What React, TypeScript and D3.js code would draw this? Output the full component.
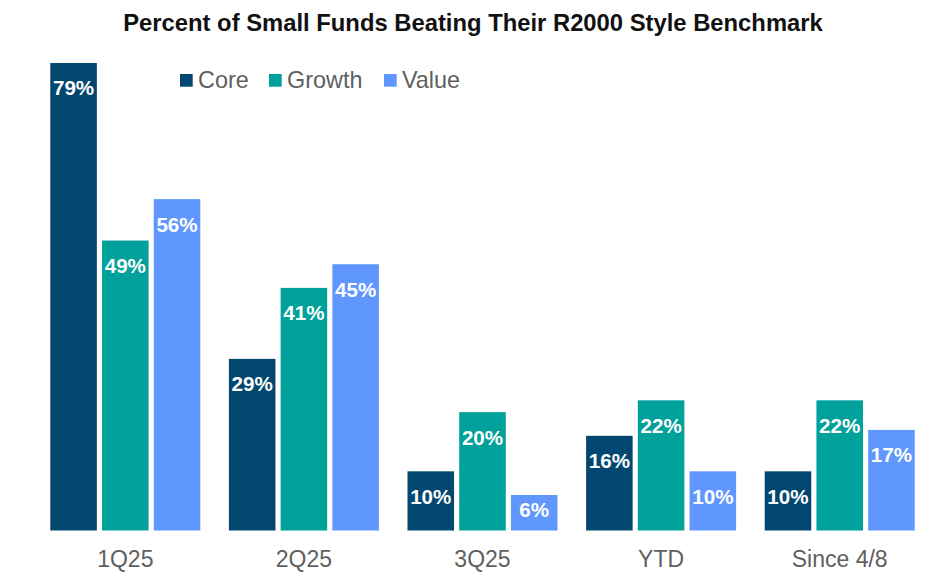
import React from "react";
import * as d3 from "d3";

const categories = ["1Q25", "2Q25", "3Q25", "YTD", "Since 4/8"];
const seriesNames = ["Core", "Growth", "Value"];
const coreValues = [79, 29, 10, 16, 10];
const growthValues = [49, 41, 20, 22, 22];
const valueValues = [56, 45, 6, 10, 17];
const seriesColors = ["#02476F", "#00A09B", "#6097FF"];
const titleText = "Percent of Small Funds Beating Their R2000 Style Benchmark";

const W = 930;
const H = 580;

export default function App() {
  const series = [coreValues, growthValues, valueValues];
  const x0 = d3
    .scaleBand<string>()
    .domain(categories)
    .range([36, 929])
    .paddingInner(0.16)
    .paddingOuter(0.08);
  const x1 = d3
    .scaleBand<string>()
    .domain(seriesNames)
    .range([0, x0.bandwidth()])
    .paddingInner(0.1)
    .paddingOuter(0);
  const y = d3.scaleLinear().domain([0, 80]).range([530.5, 57.1]);
  const base = y(0);
  const font = "'Liberation Sans', Arial, sans-serif";
  const gray = "#5f5f5f";

  const legendX = [180, 269, 384];

  return (
    <svg
      width={W}
      height={H}
      style={{ position: "absolute", left: 0, top: 0, background: "#fff" }}
      fontFamily={font}
    >
      <rect x={0} y={0} width={W} height={H} fill="#fff" />
      <text
        x={473}
        y={30.5}
        textAnchor="middle"
        fontWeight="bold"
        fontSize={23.8}
        fill="#111"
      >
        {titleText}
      </text>
      {categories.map((c, ci) => (
        <g key={c} transform={`translate(${x0(c)},0)`}>
          {seriesNames.map((s, si) => {
            const v = series[si][ci];
            const top = y(v);
            const bx = x1(s)!;
            const bw = x1.bandwidth();
            const cy = Math.min(top + 25, (top + base) / 2 - 3);
            return (
              <g key={s}>
                <rect
                  x={bx}
                  y={top}
                  width={bw}
                  height={base - top}
                  fill={seriesColors[si]}
                />
                <text
                  x={bx + bw / 2}
                  y={cy + 7.4}
                  textAnchor="middle"
                  fontWeight="bold"
                  fontSize={20.6}
                  fill="#fff"
                >
                  {v}%
                </text>
              </g>
            );
          })}
          <text
            x={x0.bandwidth() / 2}
            y={567}
            textAnchor="middle"
            fontSize={23}
            fill={gray}
          >
            {c}
          </text>
        </g>
      ))}
      {seriesNames.map((s, si) => (
        <g key={s} transform={`translate(${legendX[si]},74)`}>
          <rect x={0} y={0} width={12.7} height={12.7} fill={seriesColors[si]} />
          <text x={18} y={14} fontSize={23.4} fill={gray}>
            {s}
          </text>
        </g>
      ))}
    </svg>
  );
}
